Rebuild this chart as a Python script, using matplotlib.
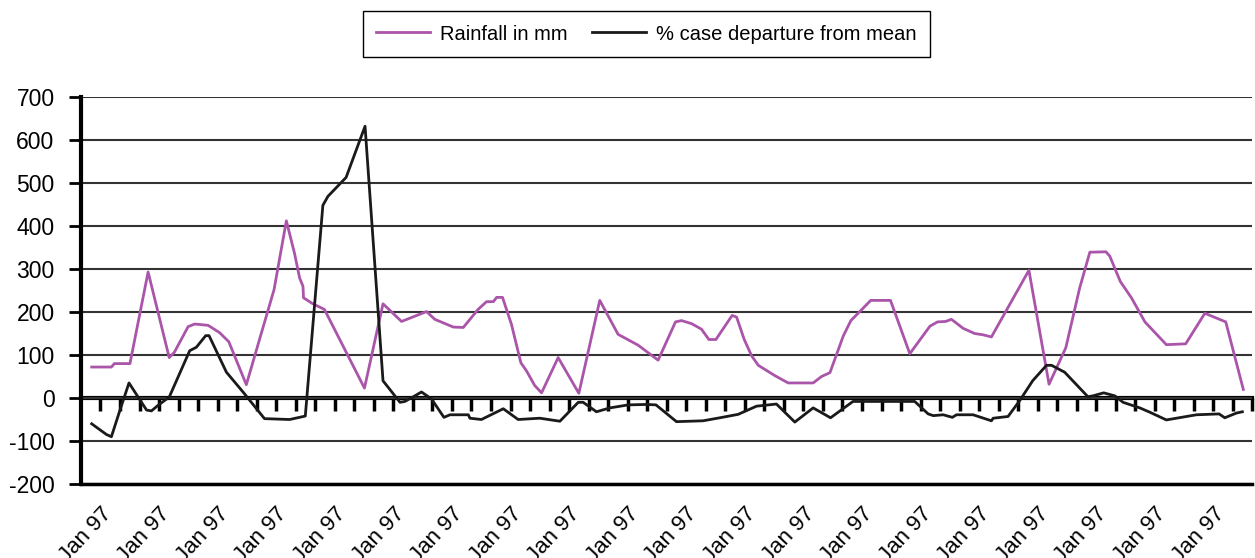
import matplotlib
matplotlib.use("Agg")
import matplotlib.pyplot as plt

plt.rcParams['font.family'] = ['Liberation Sans Narrow', 'Liberation Sans', 'DejaVu Sans']
plt.rcParams['axes.unicode_minus'] = False

# month position (0..60) and rainfall in mm
rain_x = [0.55, 1.56, 1.71, 2.51, 3.44, 4.52, 4.78, 5.49, 5.83, 6.51, 7.1, 7.57, 8.47,
          9.89, 10.52, 10.94, 11.2, 11.37, 11.4, 11.88, 12.47, 14.52, 15.47, 16.42,
          17.7, 18.12, 19.07, 19.58, 20.34, 20.77, 21.12, 21.29, 21.59, 22.05, 22.53,
          22.82, 23.24, 23.59, 24.44, 25.5, 26.57, 27.51, 28.53, 29.56, 30.45, 30.76,
          31.27, 31.78, 32.16, 32.52, 33.35, 33.58, 33.97, 34.35, 34.69, 35.54, 36.22,
          37.5, 37.93, 38.36, 39.04, 39.43, 40.45, 41.46, 42.45, 43.48, 43.87, 44.29,
          44.58, 45.18, 45.77, 46.2, 46.63, 48.55, 49.58, 50.44, 51.15, 51.67, 52.49,
          52.69, 53.23, 53.8, 54.49, 55.59, 56.58, 57.56, 58.63, 59.53]
rain_mm = [72, 72, 80, 80, 293, 94, 106, 166, 172, 169, 152, 131, 31,
           252, 412, 336, 279, 260, 233, 219, 206, 23, 219, 178,
           201, 183, 165, 164, 206, 224, 224, 234, 234, 171, 82,
           63, 29, 12, 94, 11, 227, 148, 123, 88, 177, 180,
           173, 160, 136, 136, 192, 188, 136, 98, 76, 52, 35,
           35, 50, 59, 144, 180, 227, 227, 103, 167, 177, 178,
           183, 162, 150, 147, 142, 297, 32, 117, 256, 339, 340,
           330, 271, 233, 177, 124, 126, 197, 177, 20]

# month position and % case departure from mean
case_x = [0.55, 1.31, 1.56, 2.0, 2.46, 3.36, 3.61, 3.95, 4.52, 5.57, 5.91, 6.39, 6.56,
          7.45, 8.3, 9.4, 10.69, 11.49, 12.39, 12.65, 13.58, 14.55, 15.47, 16.34,
          16.59, 17.1, 17.44, 17.95, 18.59, 18.9, 19.84, 19.92, 20.51, 21.63, 22.39,
          23.5, 24.53, 25.47, 25.72, 26.4, 27.09, 28.03, 28.97, 29.45, 30.5, 31.86,
          32.72, 33.66, 34.6, 35.62, 36.56, 37.5, 38.39, 39.54, 42.7, 43.39, 43.65,
          44.16, 44.63, 44.84, 45.69, 46.63, 46.72, 47.48, 48.08, 48.74, 49.45, 49.71,
          50.38, 51.57, 51.83, 52.38, 52.95, 53.37, 54.23, 54.74, 55.59, 57.13, 58.29,
          58.58, 59.18, 59.48]
case_dep = [-60, -85, -90, -28, 35, -28, -30, -17, 2, 110, 118, 145, 145,
            60, 14, -48, -50, -42, 448, 469, 513, 632, 40, -10,
            -8, 5, 14, -2, -45, -39, -39, -47, -50, -25, -50,
            -47, -54, -10, -10, -32, -23, -16, -15, -16, -55, -53,
            -46, -38, -19, -14, -56, -23, -46, -8, -8, -37, -41,
            -39, -45, -39, -39, -53, -47, -43, -6, 40, 76, 76,
            60, 3, 5, 12, 5, -10, -23, -33, -51, -39, -37,
            -46, -35, -32]

n_months = 60
label_months = list(range(1, n_months, 3))
labels = ["Jan 97"] * len(label_months)

fig = plt.figure(figsize=(12.55, 5.58), dpi=100)
ax = fig.add_axes([0.0645, 0.1326, 0.9335, 0.6936])

ax.plot(rain_x, rain_mm, color='#AA55AA', lw=2, label='Rainfall in mm')
ax.plot(case_x, case_dep, color='#1a1a1a', lw=2, label='% case departure from mean')

ax.set_xlim(0, n_months)
ax.set_ylim(-200, 700)
ax.set_yticks(range(-200, 701, 100))
ax.yaxis.grid(True, color='#333333', lw=1.5)
ax.set_axisbelow(True)

for s in ['top', 'right']:
    ax.spines[s].set_visible(False)
ax.spines['left'].set_linewidth(3)
ax.spines['bottom'].set_linewidth(2.5)

ax.tick_params(axis='y', direction='out', length=9, width=2, pad=10, labelsize=16.5)
ax.set_xticks(label_months)
ax.set_xticklabels(labels, rotation=47, ha='right', va='top', rotation_mode='anchor')
ax.tick_params(axis='x', length=0, pad=14, labelsize=16)

# category axis crossing at zero with tick marks pointing down
ymin, ymax = ax.get_ylim()
zero_ax = ax.secondary_xaxis((0 - ymin) / (ymax - ymin))
zero_ax.set_xticks(range(1, n_months + 1))
zero_ax.tick_params(direction='out', length=9, width=2.5, labelbottom=False, labeltop=False)
zero_ax.spines['bottom'].set_linewidth(3)

leg = fig.legend(loc='center', bbox_to_anchor=(0.515, 0.939), ncol=2, fontsize=14.5,
                 frameon=True, fancybox=False, edgecolor='black', framealpha=1,
                 handlelength=2.7, handletextpad=0.5, columnspacing=1.2, borderpad=0.65)
leg.get_frame().set_linewidth(1)

fig.savefig('out.png', dpi=100)
